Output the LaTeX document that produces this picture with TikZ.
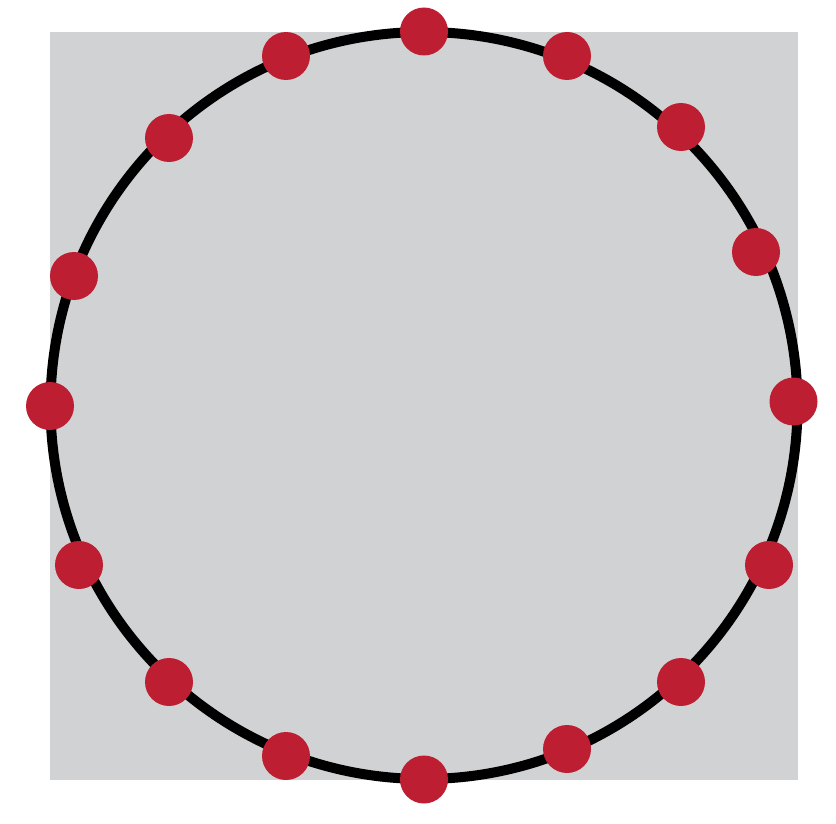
\documentclass[tikz,border=0pt]{standalone}
\definecolor{bg}{RGB}{209,210,212}
\definecolor{dotred}{RGB}{190,30,50}
\begin{document}
\begin{tikzpicture}[x=1pt,y=-1pt,
  dot/.style={circle,fill=dotred,inner sep=0pt,minimum size=48pt},
  ring/.style={draw=black,line width=10pt}]
\useasboundingbox (0,0) rectangle (836,824);
\fill[bg] (50,32) rectangle (798,780);
\coordinate (c) at (424,405.5);
\draw[ring] (c) circle[radius=373.5];
\foreach \n/\x/\y in {a/424/31.5, b/567/56, c2/681/127, d/756/252, e/793.5/401.5, f/769/565, g/681/682, h/567/749, i/424/779.5, j/286/756, k/169/682, l/79/565, m/50/406, n/74/276, o/169/138, p/286/56}
  \node[dot] (\n) at (\x,\y) {};
\end{tikzpicture}
\end{document}
